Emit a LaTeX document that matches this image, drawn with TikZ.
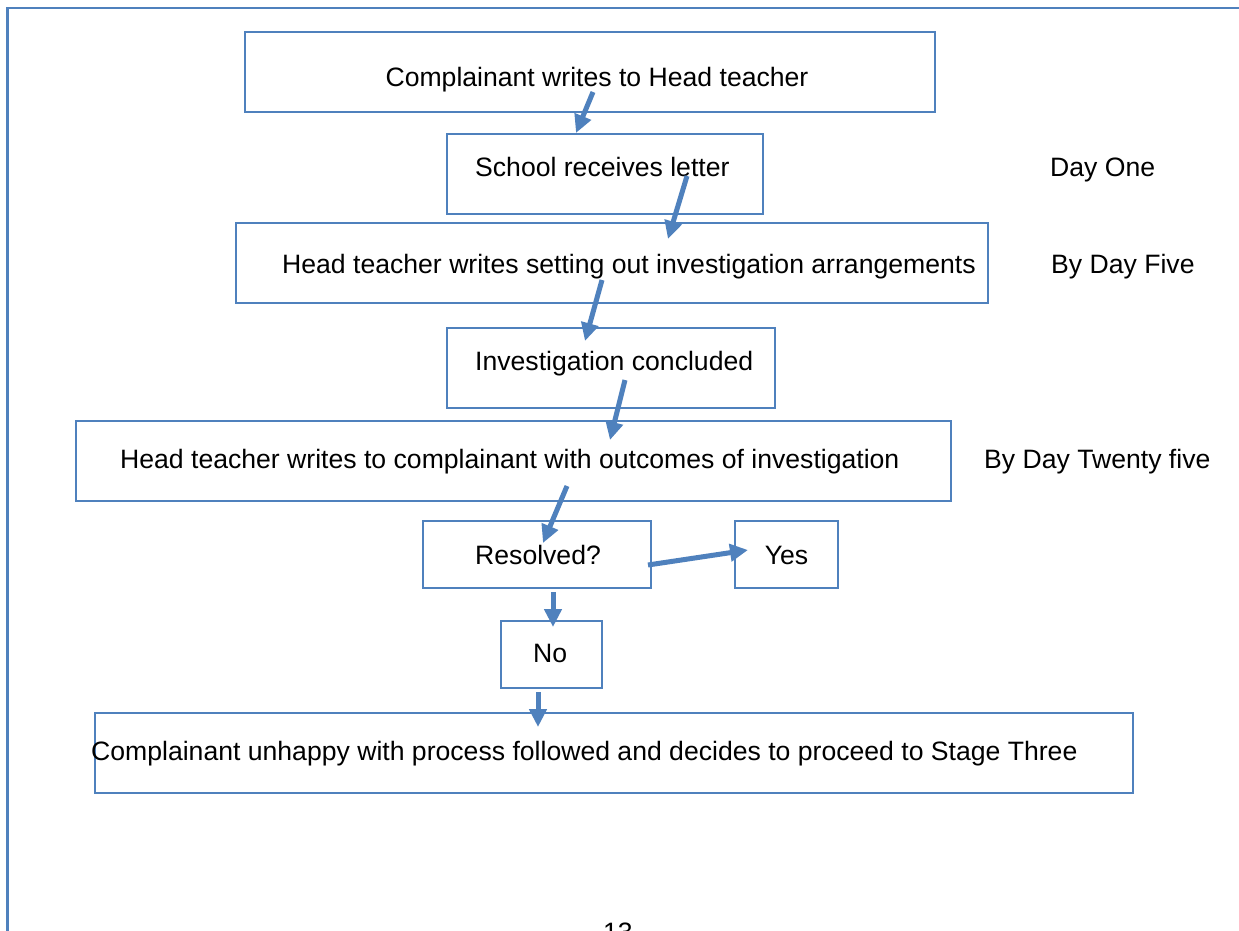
\documentclass[tikz,border=0pt]{standalone}
\usepackage{fontspec}
\setmainfont{Liberation Sans}
\usetikzlibrary{arrows.meta}
\definecolor{wordblue}{HTML}{4F81BD}
\tikzset{
  flowbox/.style={draw=wordblue, line width=1.6pt, fill=none},
  txt/.style={anchor=base west, inner sep=0pt, font=\fontsize{26.6}{32}\selectfont, text=black},
  flowarrow/.style={draw=wordblue, line width=5pt, -{Triangle[length=18pt,width=17pt]}},
}
\begin{document}
\begin{tikzpicture}[x=1pt,y=-1pt]
\clip (0,0) rectangle (1239,931);
\fill[white] (0,0) rectangle (1239,931);
% page border
\coordinate (pgTL) at (7.5,8);
\coordinate (pgTR) at (1250,8);
\coordinate (pgBL) at (7.5,945);
\draw[wordblue, line width=2.2pt] (pgTR) -- (pgTL) -- (pgBL);
% boxes
\draw[flowbox] (245,32) rectangle (935,112) coordinate (b1);
\draw[flowbox] (447,134) rectangle (763,214) coordinate (b2);
\draw[flowbox] (236,223) rectangle (988,303) coordinate (b3);
\draw[flowbox] (447,328) rectangle (775,408) coordinate (b4);
\draw[flowbox] (76,421) rectangle (951,501) coordinate (b5);
\draw[flowbox] (423,521) rectangle (651,588) coordinate (b6);
\draw[flowbox] (735,521) rectangle (838,588) coordinate (b7);
\draw[flowbox] (501,621) rectangle (602,688) coordinate (b8);
\draw[flowbox] (95,713) rectangle (1133,793) coordinate (b9);
% texts
\node[txt, anchor=base] (t1) at (597,87) {Complainant writes to Head teacher};
\node[txt] (t2) at (475,176) {School receives letter};
\node[txt] (d1) at (1050,176) {Day One};
\node[txt] (t3) at (282,273) {Head teacher writes setting out investigation arrangements};
\node[txt] (d2) at (1051,273) {By Day Five};
\node[txt] (t4) at (475,370) {Investigation concluded};
\node[txt] (t5) at (120,468) {Head teacher writes to complainant with outcomes of investigation};
\node[txt] (d3) at (984,468) {By Day Twenty five};
\node[txt] (t6) at (475,564) {Resolved?};
\node[txt, anchor=base] (t7) at (786.5,564) {Yes};
\node[txt] (t8) at (533,662) {No};
\node[txt] (t9) at (91,760) {Complainant unhappy with process followed and decides to proceed to Stage Three};
\node[txt] (pg) at (603,941) {13};
% arrow end points
\coordinate (a1s) at (593,92);  \coordinate (a1e) at (576,133);
\coordinate (a2s) at (687,176); \coordinate (a2e) at (668,239);
\coordinate (a3s) at (602,280); \coordinate (a3e) at (585,341);
\coordinate (a4s) at (625,380); \coordinate (a4e) at (610,440);
\coordinate (a5s) at (567,486); \coordinate (a5e) at (543,543);
\coordinate (a6s) at (553,592); \coordinate (a6e) at (553,627);
\coordinate (a7s) at (648,565); \coordinate (a7e) at (748,550);
\coordinate (a8s) at (538,692); \coordinate (a8e) at (538,727);
\draw[flowarrow] (a1s) -- (a1e);
\draw[flowarrow] (a2s) -- (a2e);
\draw[flowarrow] (a3s) -- (a3e);
\draw[flowarrow] (a4s) -- (a4e);
\draw[flowarrow] (a5s) -- (a5e);
\draw[flowarrow] (a6s) -- (a6e);
\draw[flowarrow] (a7s) -- (a7e);
\draw[flowarrow] (a8s) -- (a8e);
\end{tikzpicture}
\end{document}
